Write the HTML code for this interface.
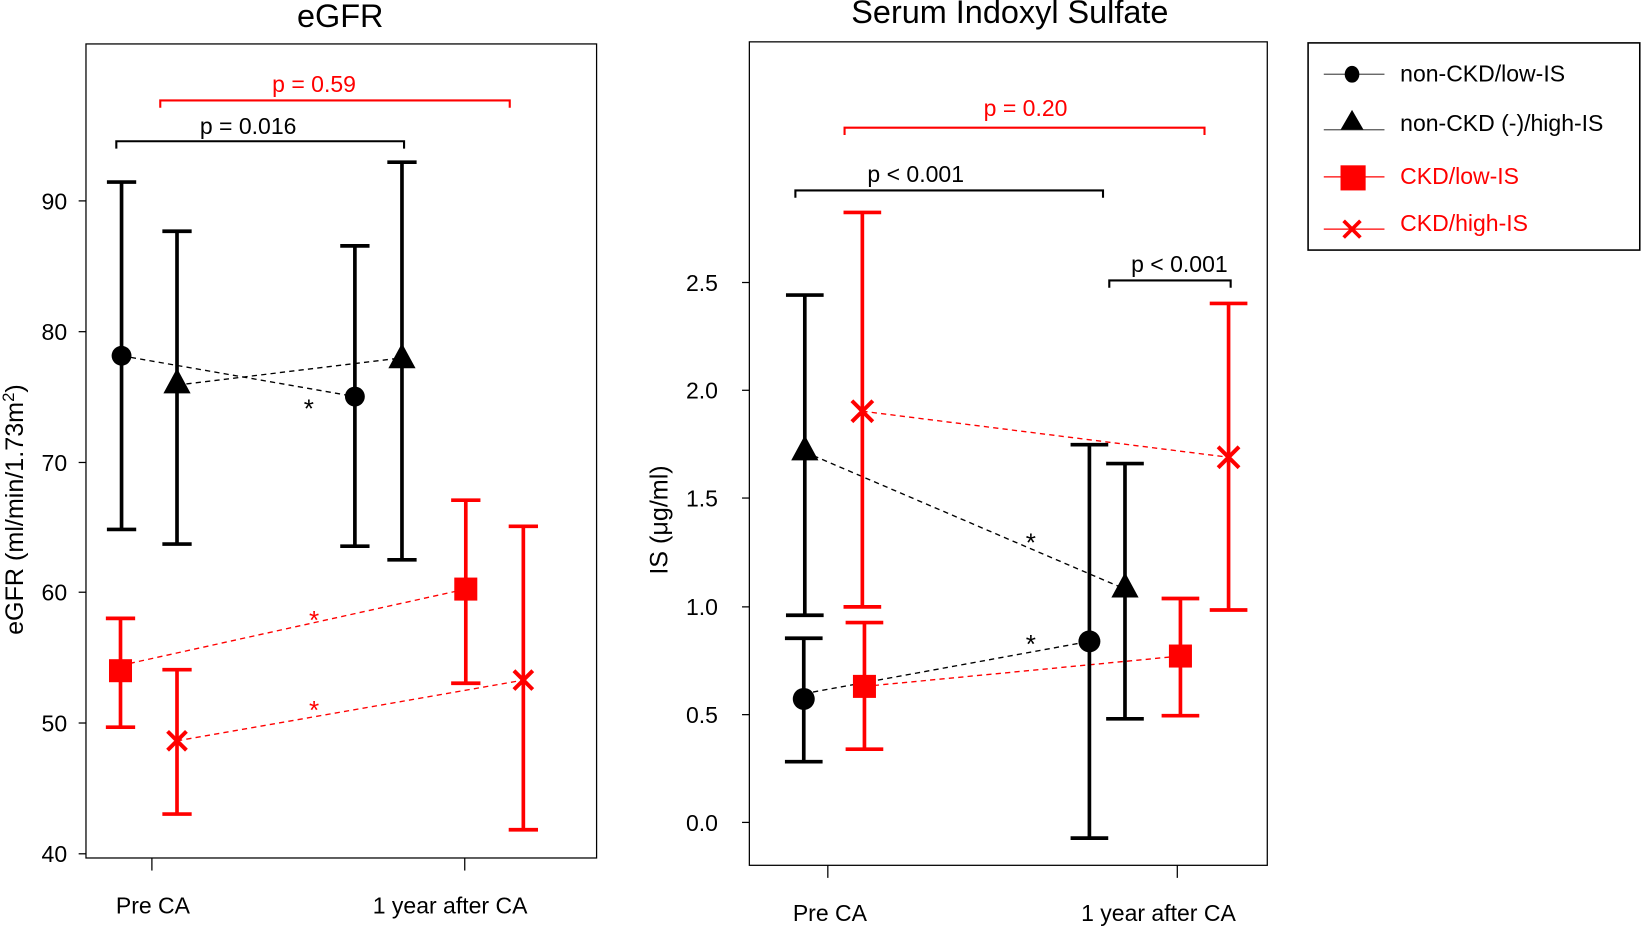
<!DOCTYPE html>
<html><head><meta charset="utf-8"><style>html,body{margin:0;padding:0;background:#fff}svg{display:block}text{font-family:"Liberation Sans",Arial,sans-serif}</style></head><body>
<svg width="1641" height="926" viewBox="0 0 1568 885" xmlns="http://www.w3.org/2000/svg">
<defs>
<g id="tri"><polygon points="0,-14 13,10 -13,10"/></g>
</defs>
<!-- Left panel -->
<text x="325" y="26" font-size="31" text-anchor="middle">eGFR</text>
<rect x="82" y="42" width="488" height="778" fill="none" stroke="#000" stroke-width="1.2"/>
<g stroke="#000" stroke-width="1.2">
<line x1="75" y1="192" x2="82" y2="192"/><line x1="75" y1="317" x2="82" y2="317"/><line x1="75" y1="442" x2="82" y2="442"/><line x1="75" y1="566" x2="82" y2="566"/><line x1="75" y1="691" x2="82" y2="691"/><line x1="75" y1="816" x2="82" y2="816"/>
<line x1="145" y1="820" x2="145" y2="832"/><line x1="444" y1="820" x2="444" y2="832"/>
</g>
<g font-size="22" text-anchor="end">
<text x="64" y="200">90</text><text x="64" y="325">80</text><text x="64" y="450">70</text><text x="64" y="574">60</text><text x="64" y="699">50</text><text x="64" y="824">40</text>
</g>
<text x="146" y="873" font-size="22" text-anchor="middle">Pre CA</text>
<text x="430" y="873" font-size="22" text-anchor="middle">1 year after CA</text>
<text transform="translate(22,487) rotate(-90)" font-size="24" text-anchor="middle">eGFR (ml/min/1.73m<tspan font-size="16" dy="-9">2</tspan><tspan dy="9">)</tspan></text>
<path d="M111,142V135H386V142" fill="none" stroke="#000" stroke-width="2"/>
<text x="237" y="128" font-size="22" text-anchor="middle">p = 0.016</text>
<path d="M153,103V96H487V103" fill="none" stroke="red" stroke-width="2"/>
<text x="300" y="88" font-size="22" text-anchor="middle" fill="red">p = 0.59</text>
<g stroke-dasharray="5,4" stroke-width="1.3" fill="none">
<line x1="116" y1="340" x2="339" y2="379" stroke="#000"/>
<line x1="169" y1="368" x2="384" y2="342" stroke="#000"/>
<line x1="115" y1="636" x2="445" y2="563" stroke="red"/>
<line x1="169" y1="708" x2="500" y2="650" stroke="red"/>
</g>
<text x="295" y="399" font-size="25" text-anchor="middle">*</text>
<text x="300" y="601" font-size="25" text-anchor="middle" fill="red">*</text>
<text x="300" y="687" font-size="25" text-anchor="middle" fill="red">*</text>
<g stroke="#000" stroke-width="3.5" fill="none">
<path d="M116,174V506M102,174H130M102,506H130"/>
<path d="M169,221V520M155,221H183M155,520H183"/>
<path d="M339,235V522M325,235H353M325,522H353"/>
<path d="M384,155V535M370,155H398M370,535H398"/>
</g>
<g stroke="red" stroke-width="3.5" fill="none">
<path d="M115,591V695M101,591H129M101,695H129"/>
<path d="M169,640V778M155,640H183M155,778H183"/>
<path d="M445,478V653M431,478H459M431,653H459"/>
<path d="M500,503V793M486,503H514M486,793H514"/>
</g>
<circle cx="116" cy="340" r="9.5"/><circle cx="339" cy="379" r="9.5"/>
<use href="#tri" x="169" y="366"/><use href="#tri" x="384" y="342"/>
<rect x="104" y="630" width="22" height="22" fill="red"/><rect x="434" y="552" width="22" height="22" fill="red"/>
<g stroke="red" stroke-width="3.8"><path d="M160,699L178,717M178,699L160,717"/><path d="M491,641L509,659M509,641L491,659"/></g>

<!-- Right panel -->
<text x="965" y="22" font-size="31" text-anchor="middle">Serum Indoxyl Sulfate</text>
<rect x="716" y="40" width="495" height="787" fill="none" stroke="#000" stroke-width="1.2"/>
<g stroke="#000" stroke-width="1.2">
<line x1="709" y1="270" x2="716" y2="270"/><line x1="709" y1="373" x2="716" y2="373"/><line x1="709" y1="476" x2="716" y2="476"/><line x1="709" y1="580" x2="716" y2="580"/><line x1="709" y1="683" x2="716" y2="683"/><line x1="709" y1="786" x2="716" y2="786"/>
<line x1="791" y1="827" x2="791" y2="839"/><line x1="1125" y1="827" x2="1125" y2="839"/>
</g>
<g font-size="22" text-anchor="end">
<text x="686" y="278">2.5</text><text x="686" y="381">2.0</text><text x="686" y="484">1.5</text><text x="686" y="588">1.0</text><text x="686" y="691">0.5</text><text x="686" y="794">0.0</text>
</g>
<text x="793" y="880" font-size="22" text-anchor="middle">Pre CA</text>
<text x="1107" y="880" font-size="22" text-anchor="middle">1 year after CA</text>
<text transform="translate(638,497) rotate(-90)" font-size="24" text-anchor="middle">IS (μg/ml)</text>
<path d="M807,129V122H1151V129" fill="none" stroke="red" stroke-width="2"/>
<text x="980" y="111" font-size="22" text-anchor="middle" fill="red">p = 0.20</text>
<path d="M760,189V182H1054V189" fill="none" stroke="#000" stroke-width="2"/>
<text x="875" y="174" font-size="22" text-anchor="middle">p &lt; 0.001</text>
<path d="M1060,275V268H1176V275" fill="none" stroke="#000" stroke-width="2"/>
<text x="1127" y="260" font-size="22" text-anchor="middle">p &lt; 0.001</text>
<g stroke-dasharray="5,4" stroke-width="1.3" fill="none">
<line x1="769" y1="432" x2="1075" y2="563" stroke="#000"/>
<line x1="768" y1="663" x2="1041" y2="613" stroke="#000"/>
<line x1="824" y1="393" x2="1174" y2="437" stroke="red"/>
<line x1="826" y1="656" x2="1128" y2="627" stroke="red"/>
</g>
<text x="985" y="527" font-size="25" text-anchor="middle">*</text>
<text x="985" y="624" font-size="25" text-anchor="middle">*</text>
<g stroke="#000" stroke-width="3.5" fill="none">
<path d="M768,610V728M750,610H786M750,728H786"/>
<path d="M769,282V588M751,282H787M751,588H787"/>
<path d="M1041,425V801M1023,425H1059M1023,801H1059"/>
<path d="M1075,443V687M1057,443H1093M1057,687H1093"/>
</g>
<g stroke="red" stroke-width="3.5" fill="none">
<path d="M824,203V580M806,203H842M806,580H842"/>
<path d="M826,595V716M808,595H844M808,716H844"/>
<path d="M1128,572V684M1110,572H1146M1110,684H1146"/>
<path d="M1174,290V583M1156,290H1192M1156,583H1192"/>
</g>
<circle cx="768" cy="668" r="10.5"/><circle cx="1041" cy="613" r="10.5"/>
<use href="#tri" x="769" y="430"/><use href="#tri" x="1075" y="561"/>
<rect x="815" y="645" width="22" height="22" fill="red"/><rect x="1117" y="616" width="22" height="22" fill="red"/>
<g stroke="red" stroke-width="3.8"><path d="M814,383L834,403M834,383L814,403"/><path d="M1164,427L1184,447M1184,427L1164,447"/></g>

<!-- Legend -->
<rect x="1250" y="41" width="317" height="198" fill="none" stroke="#000" stroke-width="1.5"/>
<g stroke-width="1.2">
<line x1="1265" y1="71" x2="1323" y2="71" stroke="#555"/>
<line x1="1265" y1="124" x2="1323" y2="124" stroke="#555"/>
<line x1="1265" y1="169" x2="1323" y2="169" stroke="red"/>
<line x1="1265" y1="219" x2="1323" y2="219" stroke="red"/>
</g>
<ellipse cx="1292" cy="71" rx="7" ry="8"/>
<polygon points="1292,105 1303,124 1281,124"/>
<rect x="1281" y="158" width="24" height="24" fill="red"/>
<path d="M1284,211L1300,227M1300,211L1284,227" stroke="red" stroke-width="3.5"/>
<g font-size="22">
<text x="1338" y="78">non-CKD/low-IS</text>
<text x="1338" y="125">non-CKD (-)/high-IS</text>
<text x="1338" y="176" fill="red">CKD/low-IS</text>
<text x="1338" y="221" fill="red">CKD/high-IS</text>
</g>
</svg>
</body></html>
